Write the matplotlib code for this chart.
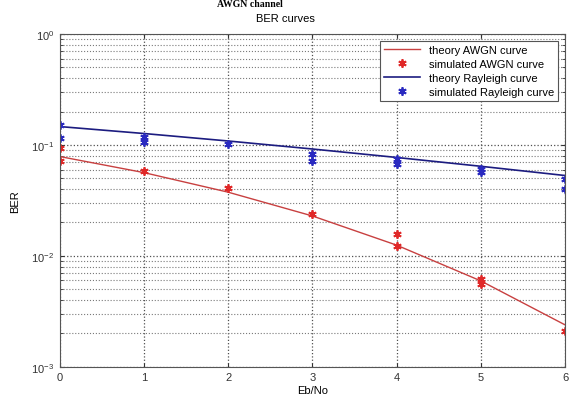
import matplotlib
matplotlib.use("Agg")
import matplotlib.pyplot as plt
from matplotlib.ticker import LogLocator, NullFormatter

ebno = [0, 1, 2, 3, 4, 5, 6]
theory_awgn = [0.0786, 0.0563, 0.0375, 0.0229, 0.0125, 0.00595, 0.00239]
theory_rayleigh = [0.1464, 0.1267, 0.1085, 0.0919, 0.0771, 0.0642, 0.0530]

sim_awgn_x = [0, 0, 1, 2, 3, 4, 4, 5, 5, 6]
sim_awgn_y = [0.093, 0.072, 0.058, 0.041, 0.0237, 0.0158, 0.0124, 0.0062, 0.0056, 0.00212]
sim_ray_x = [0, 0, 1, 1, 2, 3, 3, 4, 4, 5, 5, 6, 6]
sim_ray_y = [0.151, 0.115, 0.119, 0.107, 0.101, 0.083, 0.072, 0.075, 0.067, 0.061, 0.057, 0.049, 0.040]

plt.rcParams['font.family'] = ['Liberation Sans', 'DejaVu Sans']
fig = plt.figure(figsize=(5.69, 4.02), dpi=100)
ax = fig.add_axes([0.105, 0.085, 0.888, 0.828])

asterisk = (6, 2, 0)
ax.semilogy(ebno, theory_awgn, color='#c84040', lw=1.0, label='theory AWGN curve')
ax.semilogy(sim_awgn_x, sim_awgn_y, ls='none', marker=asterisk, ms=6, mew=1.3,
            color='#e02828', label='simulated AWGN curve')
ax.semilogy(ebno, theory_rayleigh, color='#1c1c80', lw=1.2, label='theory Rayleigh curve')
ax.semilogy(sim_ray_x, sim_ray_y, ls='none', marker=asterisk, ms=6, mew=1.3,
            color='#2a2ac0', label='simulated Rayleigh curve')

ax.set_xlim(0, 6)
ax.set_ylim(1e-3, 1)
ax.set_xticks(ebno)
ax.yaxis.set_major_locator(LogLocator(base=10, numticks=10))
ax.yaxis.set_minor_locator(LogLocator(base=10, subs=range(2, 10), numticks=10))
ax.yaxis.set_minor_formatter(NullFormatter())
ax.grid(True, which='major', ls=':', color='#505050', lw=0.9)
ax.grid(True, which='minor', axis='y', ls=':', color='#7a7a7a', lw=0.8)
ax.tick_params(labelsize=8, direction='in', top=True, right=True, which='both',
               length=3, colors='#333333', pad=4)
ax.tick_params(which='minor', length=2)
for s in ax.spines.values():
    s.set_color('#555555')

ax.set_xlabel('Eb/No', fontsize=8, labelpad=2)
ax.set_ylabel('BER', fontsize=8, labelpad=8)
ax.set_title('BER curves', fontsize=8, pad=9, x=0.446)

leg = ax.legend(loc='upper right', fontsize=8, frameon=True, fancybox=False,
                edgecolor='#555555', framealpha=1, borderaxespad=0.6,
                handlelength=3.2, labelspacing=0.35, borderpad=0.4)
leg.get_frame().set_linewidth(0.8)

fig.text(0.44, 0.999, 'AWGN channel', ha='center', va='top',
         fontsize=7, fontweight='bold', family='Liberation Serif')

fig.savefig('out.png', dpi=100)
